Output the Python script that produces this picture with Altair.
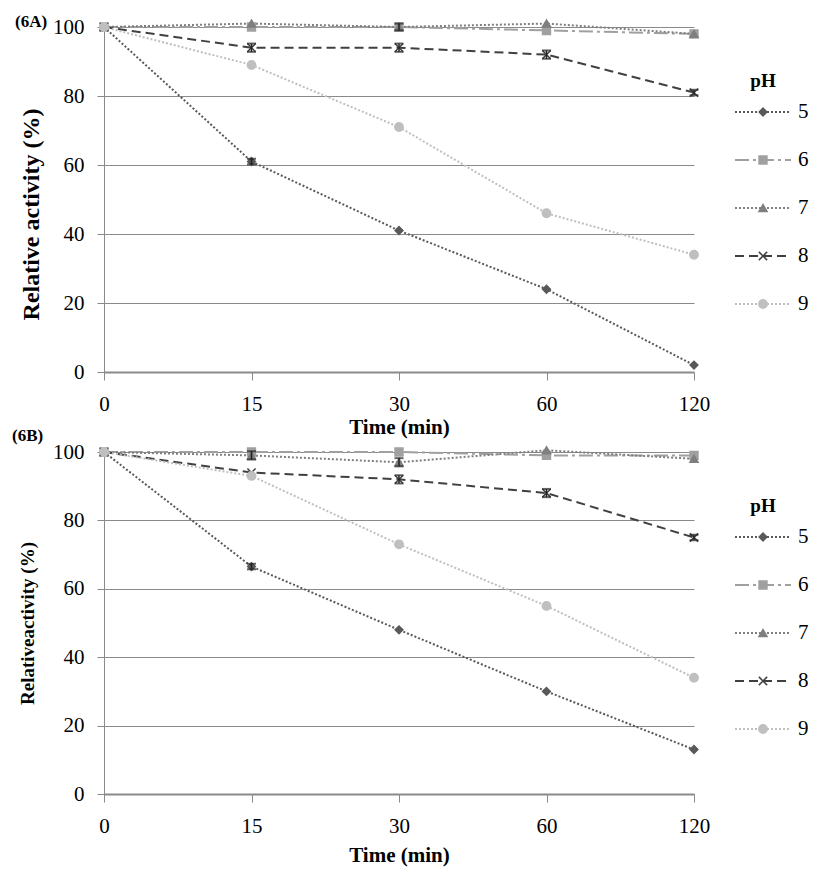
import altair as alt
import pandas as pd

# ---------------- data ----------------
times = ["0", "15", "30", "60", "120"]
ph_levels = ["5", "6", "7", "8", "9"]

# Panel 6A
a_ph5 = [100, 61, 41, 24, 2]
a_ph6 = [100, 100, 100, 99, 98]
a_ph7 = [100, 101, 100, 101, 98]
a_ph8 = [100, 94, 94, 92, 81]
a_ph9 = [100, 89, 71, 46, 34]
a_err5 = [0, 0.8, 0, 0, 0]
a_err6 = [0, 0, 0, 0, 0]
a_err7 = [0, 0, 1.0, 0, 0]
a_err8 = [0, 1.2, 1.2, 1.2, 0.8]
a_err9 = [0, 0, 0, 0, 0]

# Panel 6B
b_ph5 = [100, 66.5, 48, 30, 13]
b_ph6 = [100, 100, 100, 99, 99]
b_ph7 = [100, 99, 97, 100.5, 98]
b_ph8 = [100, 94, 92, 88, 75]
b_ph9 = [100, 93, 73, 55, 34]
b_err5 = [0, 0.8, 0, 0, 0]
b_err6 = [0, 0, 0, 0, 0]
b_err7 = [0, 1.2, 1.2, 0, 0]
b_err8 = [0, 0, 1.2, 1.2, 0.8]
b_err9 = [0, 0, 0, 0, 0]

# ---------------- styles ----------------
FONT = "Liberation Serif"
GRAY = "#8a8a8a"
colors = ["#595959", "#a0a0a0", "#7f7f7f", "#404040", "#bfbfbf"]
dashes = [[2, 2], [14, 4, 3, 4], [2, 2], [9, 5], [2, 2]]
shapes = ["diamond", "square", "triangle-up", "M-1,-1L1,1M-1,1L1,-1", "circle"]
sizes = [60, 70, 45, 60, 110]

color_scale = alt.Scale(domain=ph_levels, range=colors)
dash_scale = alt.Scale(domain=ph_levels, range=dashes)
shape_scale = alt.Scale(domain=ph_levels, range=shapes)
size_scale = alt.Scale(domain=ph_levels, range=sizes)

axis_common = dict(labelFont=FONT, labelFontSize=21, labelColor="black",
                   titleFont=FONT, titleFontWeight="bold", titleColor="black",
                   domainColor=GRAY, tickColor=GRAY)


def panel(series, errs, width, height, ytitle, ytitle_size, ytitle_pad, ytitle_y, xtitle_pad,
          tag, tag_x, tag_y):
    rows = []
    for ph, vals, ers in zip(ph_levels, series, errs):
        for t, v, e in zip(times, vals, ers):
            rows.append({"Time": t, "Value": v, "pH": ph, "lo": v - e, "hi": v + e, "err": e})
    df = pd.DataFrame(rows)

    x = alt.X("Time:O", sort=times,
              scale=alt.Scale(type="point", padding=0),
              axis=alt.Axis(title="Time (min)", labelAngle=0, labelPadding=13, grid=False,
                            tickSize=8, domainWidth=2, titlePadding=xtitle_pad,
                            titleFontSize=21, **axis_common))
    y = alt.Y("Value:Q", scale=alt.Scale(domain=[0, 100], nice=False),
              axis=alt.Axis(title=ytitle, values=[0, 20, 40, 60, 80, 100], grid=True,
                            gridColor=GRAY, gridWidth=1, titleFontSize=ytitle_size,
                            titleY=ytitle_y,
                            tickSize=7, labelPadding=13, titlePadding=ytitle_pad, **axis_common))
    base = alt.Chart(df).encode(x=x, y=y)

    lines = base.mark_line(strokeWidth=2).encode(
        color=alt.Color("pH:N", scale=color_scale, legend=None),
        strokeDash=alt.StrokeDash("pH:N", scale=dash_scale, legend=None),
        detail="pH:N",
    )
    points = base.mark_point(filled=True, opacity=1, strokeWidth=1.5).encode(
        color=alt.Color("pH:N", scale=color_scale, legend=None),
        stroke=alt.Stroke("pH:N", scale=color_scale, legend=None),
        shape=alt.Shape("pH:N", scale=shape_scale, legend=None),
        size=alt.Size("pH:O", scale=size_scale, legend=None),
    )
    eb = alt.Chart(df).transform_filter("datum.err > 0")
    err_rule = eb.mark_rule(color="#222222", strokeWidth=1.5).encode(
        x=alt.X("Time:O", sort=times), y="lo:Q", y2="hi:Q")
    err_lo = eb.mark_tick(color="#222222", size=9, thickness=2).encode(
        x=alt.X("Time:O", sort=times), y="lo:Q")
    err_hi = eb.mark_tick(color="#222222", size=9, thickness=2).encode(
        x=alt.X("Time:O", sort=times), y="hi:Q")

    tag_df = pd.DataFrame({"t": [tag]})
    tag_txt = alt.Chart(tag_df).mark_text(
        align="left", baseline="middle", font=FONT, fontSize=17, fontWeight="bold", color="black"
    ).encode(text="t:N", x=alt.value(tag_x), y=alt.value(tag_y))

    main = alt.layer(lines, points, err_rule, err_lo, err_hi, tag_txt)

    # custom legend
    leg_df = pd.DataFrame({"pH": ph_levels})
    ly = alt.Y("pH:N", scale=alt.Scale(type="point", domain=ph_levels, range=[85, 277], padding=0),
               axis=None)
    leg = alt.Chart(leg_df)
    leg_rule = leg.mark_rule(strokeWidth=2).encode(
        x=alt.value(631), x2=alt.value(687), y=ly,
        color=alt.Color("pH:N", scale=color_scale, legend=None),
        strokeDash=alt.StrokeDash("pH:N", scale=dash_scale, legend=None),
    )
    leg_pt = leg.mark_point(filled=True, opacity=1, strokeWidth=1.5).encode(
        x=alt.value(659), y=ly,
        color=alt.Color("pH:N", scale=color_scale, legend=None),
        stroke=alt.Stroke("pH:N", scale=color_scale, legend=None),
        shape=alt.Shape("pH:N", scale=shape_scale, legend=None),
        size=alt.Size("pH:O", scale=size_scale, legend=None),
    )
    leg_txt = leg.mark_text(align="left", baseline="middle", font=FONT, fontSize=21, color="black").encode(
        x=alt.value(694), y=ly, text="pH:N")
    leg_title = alt.Chart(pd.DataFrame({"t": ["pH"]})).mark_text(
        align="center", baseline="middle", font=FONT, fontSize=19, fontWeight="bold", color="black"
    ).encode(x=alt.value(659), y=alt.value(54), text="t:N")
    legend = alt.layer(leg_rule, leg_pt, leg_txt, leg_title)

    return alt.layer(main, legend).resolve_scale(y="independent").properties(width=width, height=height)


top = panel([a_ph5, a_ph6, a_ph7, a_ph8, a_ph9],
            [a_err5, a_err6, a_err7, a_err8, a_err9],
            590, 345, "Relative activity (%)", 24, 9, 187, 2, "(6A)", -89, -5)
bottom = panel([b_ph5, b_ph6, b_ph7, b_ph8, b_ph9],
               [b_err5, b_err6, b_err7, b_err8, b_err9],
               590, 342, "Relativeactivity (%)", 19, 15, 171, 8, "(6B)", -92, -16)

chart = alt.vconcat(top, bottom, spacing=80, bounds="flush").properties(
    padding={"left": 4, "top": 5, "right": 5, "bottom": 5}
).configure(font=FONT).configure_view(stroke=None)

chart.save("out.html", embed_options={"renderer": "svg", "actions": False})
